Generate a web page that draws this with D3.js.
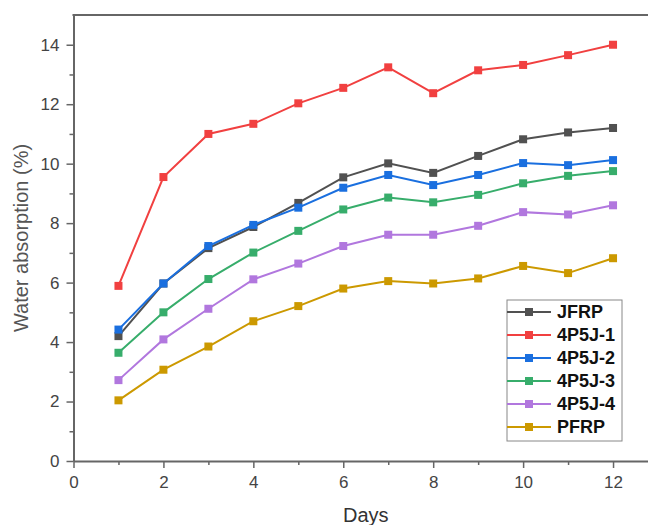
<!DOCTYPE html>
<html>
<head>
<meta charset="utf-8">
<script src="https://cdn.jsdelivr.net/npm/d3@7"></script>
<style>
  body { margin: 0; background: #fff; }
  svg { display: block; font-family: "Liberation Sans", Arial, sans-serif; }
</style>
</head>
<body>
<svg id="chart" width="648" height="525"></svg>
<script>
// days on x axis
var days = [1, 2, 3, 4, 5, 6, 7, 8, 9, 10, 11, 12];

// water absorption (%) per sample
var jfrp  = [4.20, 5.97, 7.16, 7.87, 8.68, 9.54, 10.01, 9.69, 10.26, 10.82, 11.05, 11.20];
var p5j1  = [5.89, 9.55, 11.00, 11.34, 12.03, 12.55, 13.24, 12.37, 13.14, 13.32, 13.65, 14.00];
var p5j2  = [4.42, 5.97, 7.23, 7.94, 8.52, 9.19, 9.62, 9.28, 9.62, 10.02, 9.95, 10.12];
var p5j3  = [3.64, 5.00, 6.12, 7.01, 7.74, 8.46, 8.86, 8.70, 8.95, 9.34, 9.59, 9.75];
var p5j4  = [2.72, 4.09, 5.12, 6.11, 6.64, 7.23, 7.61, 7.61, 7.91, 8.37, 8.29, 8.60];
var pfrp  = [2.04, 3.07, 3.85, 4.70, 5.21, 5.80, 6.05, 5.97, 6.14, 6.56, 6.32, 6.82];

var seriesNames = ["JFRP", "4P5J-1", "4P5J-2", "4P5J-3", "4P5J-4", "PFRP"];
var seriesValues = [jfrp, p5j1, p5j2, p5j3, p5j4, pfrp];
var colors = ["#515151", "#F14040", "#1A6FDF", "#37AD6B", "#B177DE", "#CC9900"];

var xTicks = [0, 2, 4, 6, 8, 10, 12];
var yTicks = [0, 2, 4, 6, 8, 10, 12, 14];

var svg = d3.select("#chart");
var axisColor = "#666";

var x = d3.scaleLinear().domain([0, 13]).range([73.5, 658]);
var y = d3.scaleLinear().domain([0, 15]).range([461, 15]);

// x axis with minor ticks
var xMinor = d3.range(1, 13, 2);
svg.append("g")
    .attr("transform", "translate(0," + y(0) + ")")
    .call(d3.axisBottom(x).tickValues(xMinor).tickSize(4).tickFormat(""))
    .call(function(g){ g.select(".domain").remove(); })
    .selectAll("line").attr("stroke", axisColor).attr("stroke-width", 1.5);
var gx = svg.append("g")
    .attr("transform", "translate(0," + y(0) + ")")
    .call(d3.axisBottom(x).tickValues(xTicks).tickSize(7).tickSizeOuter(0).tickPadding(8));
gx.select(".domain").attr("stroke", axisColor).attr("stroke-width", 2);
gx.selectAll("line").attr("stroke", axisColor).attr("stroke-width", 1.5);
gx.selectAll("text").attr("font-size", 17).attr("fill", "#444").attr("font-family", "Liberation Sans, Arial, sans-serif");

// y axis
var yMinor = d3.range(1, 15, 2);
svg.append("g")
    .attr("transform", "translate(" + x(0) + ",0)")
    .call(d3.axisLeft(y).tickValues(yMinor).tickSize(4).tickFormat(""))
    .call(function(g){ g.select(".domain").remove(); })
    .selectAll("line").attr("stroke", axisColor).attr("stroke-width", 1.5);
var gy = svg.append("g")
    .attr("transform", "translate(" + x(0) + ",0)")
    .call(d3.axisLeft(y).tickValues(yTicks).tickSize(7).tickSizeOuter(0).tickPadding(7));
gy.select(".domain").attr("stroke", axisColor).attr("stroke-width", 2);
gy.selectAll("line").attr("stroke", axisColor).attr("stroke-width", 1.5);
gy.selectAll("text").attr("font-size", 17).attr("fill", "#444").attr("font-family", "Liberation Sans, Arial, sans-serif");

// top frame line
svg.append("line")
    .attr("x1", x(0) - 1).attr("x2", 648)
    .attr("y1", y(15)).attr("y2", y(15))
    .attr("stroke", axisColor).attr("stroke-width", 2);

// axis titles
svg.append("text")
    .attr("x", (x(0) + x(13)) / 2).attr("y", 522)
    .attr("text-anchor", "middle")
    .attr("font-size", 20).attr("fill", "#333")
    .text("Days");
svg.append("text")
    .attr("transform", "translate(28," + ((y(0) + y(15)) / 2) + ") rotate(-90)")
    .attr("text-anchor", "middle")
    .attr("font-size", 20).attr("fill", "#555")
    .text("Water absorption (%)");

// series
var line = d3.line()
    .x(function(d, i){ return x(days[i]); })
    .y(function(d){ return y(d); });
var ms = 8;

seriesValues.forEach(function(vals, s){
    var g = svg.append("g");
    g.append("path")
        .attr("d", line(vals))
        .attr("fill", "none")
        .attr("stroke", colors[s])
        .attr("stroke-width", 2);
    g.selectAll("rect")
        .data(vals)
        .enter()
        .append("rect")
        .attr("x", function(d, i){ return x(days[i]) - ms / 2; })
        .attr("y", function(d){ return y(d) - ms / 2; })
        .attr("width", ms).attr("height", ms)
        .attr("fill", colors[s]);
});

// legend
var legend = svg.append("g").attr("transform", "translate(507,300)");
legend.append("rect")
    .attr("x", 0).attr("y", 0)
    .attr("width", 115).attr("height", 141)
    .attr("fill", "#fff").attr("stroke", "#888").attr("stroke-width", 1);
seriesNames.forEach(function(name, i){
    var ly = 12 + i * 23;
    legend.append("line")
        .attr("x1", 0).attr("x2", 44)
        .attr("y1", ly).attr("y2", ly)
        .attr("stroke", colors[i]).attr("stroke-width", 2);
    legend.append("rect")
        .attr("x", 22 - ms / 2).attr("y", ly - ms / 2)
        .attr("width", ms).attr("height", ms)
        .attr("fill", colors[i]);
    legend.append("text")
        .attr("x", 50).attr("y", ly)
        .attr("dy", "0.36em")
        .attr("font-size", 18).attr("font-weight", "bold").attr("fill", "#111")
        .text(name);
});
</script>
</body>
</html>
